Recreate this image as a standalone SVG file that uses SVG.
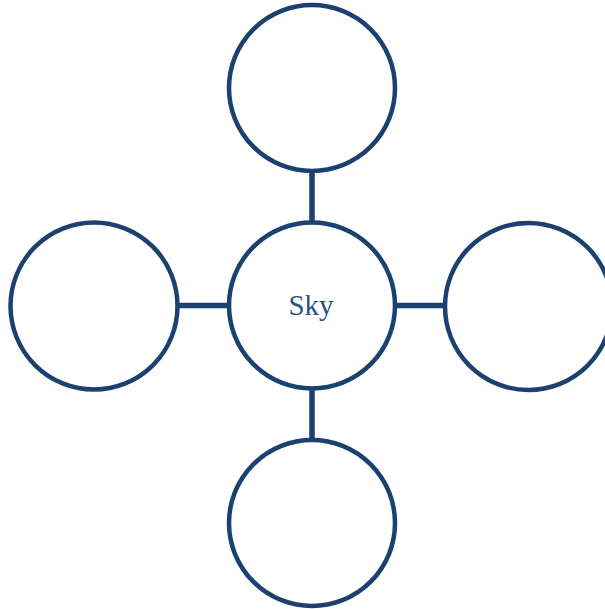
<svg xmlns="http://www.w3.org/2000/svg" width="605" height="609" viewBox="0 0 605 609">
<style>
.c{fill:#fff;stroke:#1C4070;stroke-width:4.5}
.l{stroke:#1C4070;stroke-width:5.5}
.t{font-family:'Liberation Serif','Times New Roman',serif;font-size:29px;fill:#2A5286;text-anchor:middle}
</style>
<rect width="605" height="609" fill="#fff"/>
<g id="connectors">
<line class="l" x1="312" y1="171" x2="312" y2="222"/>
<line class="l" x1="312" y1="389" x2="312" y2="440"/>
<line class="l" x1="178" y1="305.5" x2="229" y2="305.5"/>
<line class="l" x1="395" y1="305.5" x2="446" y2="305.5"/>
</g>
<g id="top"><circle class="c" cx="312" cy="88" r="83"/></g>
<g id="left"><circle class="c" cx="94" cy="306" r="83.5"/></g>
<g id="right"><circle class="c" cx="528.5" cy="306.5" r="83.5"/></g>
<g id="bottom"><circle class="c" cx="312" cy="523" r="83"/></g>
<g id="center"><circle class="c" cx="312" cy="305.5" r="83"/><text class="t" x="311" y="315">Sky</text></g>
</svg>
